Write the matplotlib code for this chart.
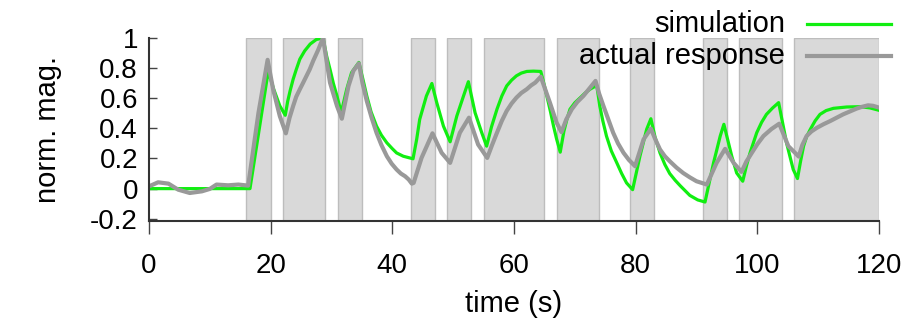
import matplotlib
matplotlib.use("Agg")
import matplotlib.pyplot as plt
from matplotlib.lines import Line2D

# shaded "on" intervals (s)
on_starts = [16, 22, 31, 43, 49, 55, 67, 79, 91, 97, 106]
on_ends = [20, 29, 35, 47, 53, 65, 74, 83, 95, 104, 120]

# simulation
sim_t = [0, 16.6, 19.6, 20.5, 21.5, 22.4, 22.8, 23.2, 23.7, 24.2, 24.8, 25.6,
         26.5, 27.5, 28.6, 29.2, 29.75, 30.3, 30.9, 31.6, 32.5, 33.3, 34.5,
         35.2, 35.8, 36.5, 37.4, 38.2, 39.1, 40.0, 40.7, 41.8, 43.4,
         44.0, 44.5, 45.6, 46.5, 47.3, 48.4, 49.5, 50.6, 51.7, 52.5, 53.6,
         54.7, 55.5, 56.3, 57.2, 58.0, 58.8, 59.6, 60.4, 61.2, 62.1, 63.2,
         64.4, 64.9, 65.4, 66.0, 66.5, 67.0, 67.6, 68.2, 68.7, 69.2, 70.0,
         70.9, 71.7, 72.5, 73.6, 74.1, 74.6, 75.2, 76.0, 76.9, 77.7, 78.5,
         79.5, 80.7, 81.8, 82.5, 83.2, 84.0, 84.8, 85.6, 86.5, 87.3, 88.9,
         90.2, 91.4, 92.8, 93.9, 94.5, 95.8, 96.6, 97.6, 98.2, 98.8, 99.9,
         100.7, 101.5, 102.5, 103.5, 104.8, 105.9, 106.6, 107.1, 107.6, 108.1,
         108.7, 109.5, 110.3, 111.3, 112.5, 114.7, 116.9, 118.5, 120]
sim_v = [0, 0, 0.78, 0.66, 0.55, 0.487, 0.58, 0.65, 0.727, 0.79, 0.86, 0.915,
         0.96, 0.99, 1.0, 0.88, 0.793, 0.7, 0.615, 0.505, 0.66, 0.77, 0.838,
         0.72, 0.615, 0.51, 0.415, 0.355, 0.304, 0.265, 0.237, 0.215, 0.198,
         0.327, 0.46, 0.615, 0.698, 0.571, 0.415, 0.311, 0.482, 0.615, 0.71,
         0.504, 0.371, 0.282, 0.41, 0.527, 0.615, 0.682, 0.72, 0.749, 0.767,
         0.778, 0.78, 0.778, 0.7, 0.615, 0.51, 0.415, 0.33, 0.242, 0.38, 0.46,
         0.527, 0.57, 0.604, 0.635, 0.66, 0.685, 0.549, 0.45, 0.349, 0.25,
         0.171, 0.1, 0.038, -0.007, 0.215, 0.393, 0.464, 0.34, 0.237, 0.16,
         0.1, 0.055, 0.02, -0.045, -0.075, -0.089, 0.171, 0.349, 0.427, 0.215,
         0.104, 0.049, 0.15, 0.237, 0.371, 0.44, 0.493, 0.535, 0.571, 0.304,
         0.127, 0.067, 0.18, 0.282, 0.345, 0.393, 0.45, 0.493, 0.518, 0.533,
         0.542, 0.544, 0.536, 0.52]

# actual response
act_t = [0, 1.5, 3.2, 4.8, 6.7, 8.7, 10.0, 11.1, 13.0, 14.7, 16.3, 18.0,
         19.5, 20.4, 21.5, 22.5, 23.1, 23.7, 24.2, 24.8, 25.3, 25.9, 26.4,
         27.0, 27.8, 28.6, 29.75, 30.9, 31.7, 32.8, 33.6, 34.5, 35.1, 35.8,
         36.6, 37.4, 38.2, 39.1, 39.9, 40.7, 41.4, 42.1, 42.7, 43.2, 43.5,
         44.8, 46.6, 48.1, 49.5, 51.1, 52.6, 54.1, 55.6, 56.4, 57.2, 58.0,
         58.8, 59.6, 60.4, 61.2, 62.1, 62.8, 63.5, 64.4, 65.9, 67.0, 67.8,
         68.6, 69.5, 70.4, 71.4, 72.4, 73.4, 74.0, 74.7, 75.5, 76.3, 77.1,
         78.0, 78.9, 79.9, 81.3, 82.5, 83.2, 84.0, 84.8, 85.6, 86.7, 87.8,
         88.9, 90.0, 91.7, 93.3, 94.7, 96.1, 97.4, 98.2, 99.1, 100.0, 101.0,
         102.3, 103.6, 105.1, 106.8, 107.4, 108.1, 108.9, 109.8, 110.9, 112.0,
         113.0, 114.1, 115.2, 116.3, 117.2, 118.2, 119.0, 120]
act_v = [0.015, 0.042, 0.033, -0.007, -0.029, -0.018, -0.002, 0.027, 0.022,
         0.027, 0.02, 0.504, 0.855, 0.66, 0.482, 0.367, 0.47, 0.549, 0.61,
         0.66, 0.7, 0.749, 0.79, 0.849, 0.92, 1.0, 0.704, 0.549, 0.464, 0.682,
         0.782, 0.831, 0.7, 0.582, 0.47, 0.371, 0.29, 0.215, 0.165, 0.127,
         0.1, 0.082, 0.06, 0.033, 0.038, 0.204, 0.367, 0.238, 0.171, 0.371,
         0.471, 0.293, 0.204, 0.29, 0.371, 0.45, 0.516, 0.565, 0.604, 0.635,
         0.66, 0.685, 0.704, 0.743, 0.571, 0.438, 0.375, 0.46, 0.527, 0.575,
         0.615, 0.665, 0.715, 0.63, 0.549, 0.46, 0.371, 0.3, 0.238, 0.19,
         0.149, 0.327, 0.398, 0.33, 0.26, 0.215, 0.182, 0.14, 0.104, 0.075,
         0.049, 0.027, 0.171, 0.264, 0.171, 0.111, 0.18, 0.238, 0.295, 0.349,
         0.395, 0.431, 0.282, 0.213, 0.29, 0.349, 0.38, 0.404, 0.428, 0.449,
         0.47, 0.493, 0.512, 0.531, 0.543, 0.553, 0.55, 0.538]

x_ticks = [0, 20, 40, 60, 80, 100, 120]
y_ticks = [-0.2, 0, 0.2, 0.4, 0.6, 0.8, 1]
y_tick_labels = ["-0.2", "0", "0.2", "0.4", "0.6", "0.8", "1"]

plt.rcParams['font.family'] = ['Liberation Sans', 'DejaVu Sans']

W, H = 915, 329
fig = plt.figure(figsize=(W / 100, H / 100), dpi=100)
ax = fig.add_axes([149 / W, 1 - 221 / H, (879 - 149) / W, (221 - 38) / H])

for a, b in zip(on_starts, on_ends):
    ax.axvspan(a, b, facecolor='#d9d9d9', edgecolor='#bdbdbd', linewidth=1.0, zorder=1)

ax.plot(sim_t, sim_v, color='#11ee11', linewidth=2.3, zorder=3, solid_joinstyle='round')
ax.plot(act_t, act_v, color='#999999', linewidth=3.0, zorder=4, solid_joinstyle='round')

ax.set_xlim(0, 120)
ax.set_ylim(-0.215, 1.0)
ax.set_xticks(x_ticks)
ax.set_xticklabels([str(v) for v in x_ticks], fontsize=20)
ax.set_yticks(y_ticks)
ax.set_yticklabels(y_tick_labels, fontsize=20)
ax.tick_params(axis='y', direction='in', length=6, width=1, color='#444444', pad=8)
ax.tick_params(axis='x', direction='out', length=9, width=1, color='#444444', pad=14)
for s in ['top', 'right']:
    ax.spines[s].set_visible(False)
for s in ['left', 'bottom']:
    ax.spines[s].set_color('#333333')
    ax.spines[s].set_linewidth(1.5)
    ax.spines[s].set_zorder(5)

ax.set_xlabel('time (s)', fontsize=21, labelpad=8)
ax.set_ylabel('norm. mag.', fontsize=21, labelpad=20)

# legend
fig.text(785 / W, 1 - 24 / H, 'simulation', ha='right', va='center', fontsize=21)
fig.text(785 / W, 1 - 56 / H, 'actual response', ha='right', va='center', fontsize=21)
fig.add_artist(Line2D([807 / W, 891 / W], [1 - 24 / H, 1 - 24 / H], color='#11ee11', linewidth=2.3))
fig.add_artist(Line2D([807 / W, 891 / W], [1 - 56 / H, 1 - 56 / H], color='#999999', linewidth=3.0))

fig.savefig('out.png', dpi=100)
